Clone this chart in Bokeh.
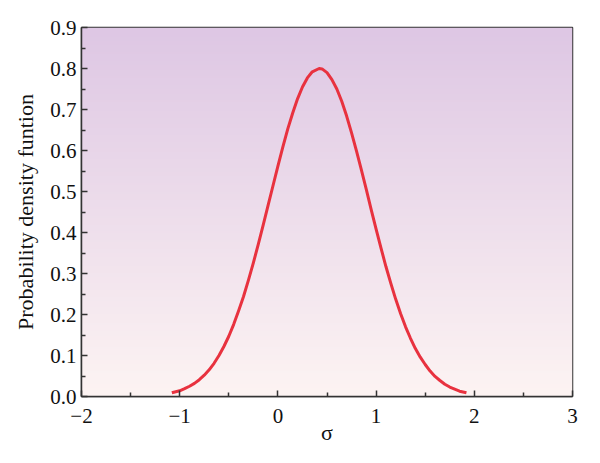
import numpy as np
from bokeh.plotting import figure
from bokeh.models import Range1d, FixedTicker, CustomJSTickFormatter
from bokeh.embed import file_html
from bokeh.resources import INLINE

# data
sigma = [-1.08, -1.05, -1.0, -0.95, -0.9, -0.85, -0.8, -0.75, -0.7, -0.65, -0.6, -0.55,
         -0.5, -0.45, -0.4, -0.35, -0.3, -0.25, -0.2, -0.15, -0.1, -0.05, 0.0, 0.05,
         0.1, 0.15, 0.2, 0.25, 0.3, 0.35, 0.42, 0.45, 0.5, 0.55, 0.6, 0.65, 0.7, 0.75,
         0.8, 0.85, 0.9, 0.95, 1.0, 1.05, 1.1, 1.15, 1.2, 1.25, 1.3, 1.35, 1.4, 1.45,
         1.5, 1.55, 1.6, 1.65, 1.7, 1.75, 1.8, 1.85, 1.92]
pdf = [0.009, 0.011, 0.014, 0.019, 0.025, 0.032, 0.041, 0.052, 0.065, 0.081, 0.100, 0.122,
       0.147, 0.176, 0.209, 0.244, 0.284, 0.326, 0.371, 0.418, 0.466, 0.514, 0.562, 0.608,
       0.652, 0.691, 0.726, 0.755, 0.777, 0.792, 0.800, 0.799, 0.790, 0.773, 0.750, 0.720,
       0.684, 0.643, 0.599, 0.553, 0.505, 0.456, 0.408, 0.362, 0.317, 0.276, 0.237, 0.202,
       0.170, 0.142, 0.117, 0.096, 0.078, 0.062, 0.049, 0.039, 0.030, 0.023, 0.018, 0.013,
       0.009]
x_ticks = [-2, -1, 0, 1, 2, 3]
x_minor = [-1.5, -0.5, 0.5, 1.5, 2.5]
y_ticks = [0.0, 0.1, 0.2, 0.3, 0.4, 0.5, 0.6, 0.7, 0.8, 0.9]
y_minor = [0.05, 0.15, 0.25, 0.35, 0.45, 0.55, 0.65, 0.75, 0.85]

FONT = "Liberation Serif"

p = figure(width=584, height=447, output_backend="svg", toolbar_location=None,
           x_range=Range1d(x_ticks[0], x_ticks[-1]), y_range=Range1d(y_ticks[0], y_ticks[-1]),
           min_border_left=81, min_border_right=12, min_border_top=27, min_border_bottom=45)

# background vertical gradient
n = 200
top = np.array([222, 199, 228], dtype=float)
bot = np.array([253, 244, 243], dtype=float)
t = np.linspace(0, 1, n)[:, None]  # 0 at bottom row
cols = bot * (1 - t) + top * t
img = np.zeros((n, 1), dtype=np.uint32)
view = img.view(dtype=np.uint8).reshape((n, 1, 4))
view[:, 0, 0] = cols[:, 0].astype(np.uint8)
view[:, 0, 1] = cols[:, 1].astype(np.uint8)
view[:, 0, 2] = cols[:, 2].astype(np.uint8)
view[:, 0, 3] = 255
p.image_rgba(image=[img], x=x_ticks[0], y=y_ticks[0],
             dw=x_ticks[-1] - x_ticks[0], dh=y_ticks[-1] - y_ticks[0])

p.line(sigma, pdf, line_color="#e8323f", line_width=3, line_join="round")

p.grid.visible = False
p.outline_line_color = "#333333"
p.outline_line_width = 1.5

p.xaxis.ticker = FixedTicker(ticks=x_ticks, minor_ticks=x_minor)
p.yaxis.ticker = FixedTicker(ticks=y_ticks, minor_ticks=y_minor)
p.yaxis.formatter = CustomJSTickFormatter(code="return tick.toFixed(1);")
p.xaxis.formatter = CustomJSTickFormatter(code="return tick < 0 ? '\u2212' + Math.abs(tick) : '' + tick;")

for ax in (p.xaxis, p.yaxis):
    ax.major_tick_in = 6
    ax.major_tick_out = 0
    ax.minor_tick_in = 4
    ax.minor_tick_out = 0
    ax.axis_line_color = "#333333"
    ax.axis_line_width = 1.5
    ax.major_tick_line_color = "#333333"
    ax.minor_tick_line_color = "#333333"
    ax.major_tick_line_width = 1.5
    ax.minor_tick_line_width = 1.5
    ax.major_label_text_font = FONT
    ax.major_label_text_font_size = "21px"
    ax.major_label_text_color = "#111111"
    ax.axis_label_text_font = FONT
    ax.axis_label_text_font_size = "22px"
    ax.axis_label_text_font_style = "normal"
    ax.axis_label_text_color = "#111111"

p.xaxis.axis_label = "σ"
p.yaxis.axis_label = "Probability density funtion"
p.xaxis.major_label_standoff = 12
p.yaxis.major_label_standoff = 5
p.xaxis.axis_label_standoff = -6
p.yaxis.axis_label_standoff = 9

open("out.html", "w").write(file_html(p, INLINE))
